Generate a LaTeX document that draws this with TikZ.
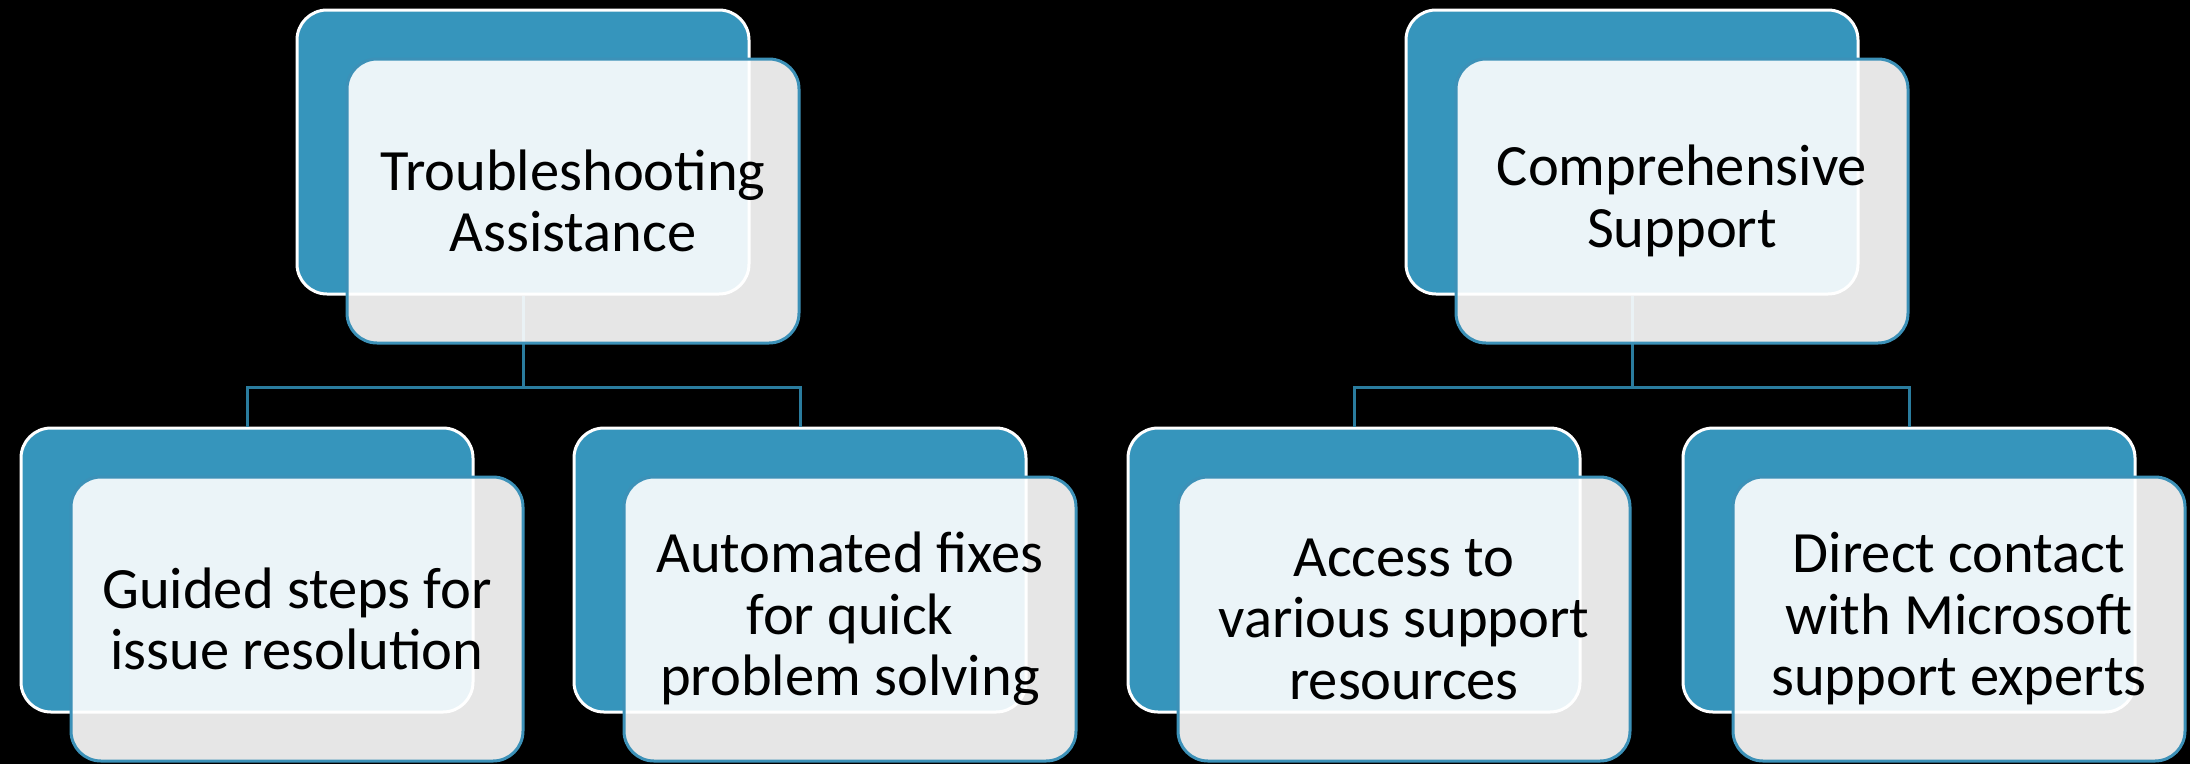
\documentclass[tikz,border=0pt]{standalone}
\usepackage{fontspec}
\setmainfont{Carlito}
\definecolor{accblue}{RGB}{54,149,188}
\definecolor{accline}{RGB}{60,145,184}
\definecolor{connblue}{RGB}{42,124,158}
\begin{document}
\begin{tikzpicture}[x=1pt,y=-1pt,
  backbox/.style={draw=white,line width=3pt,fill=accblue,rounded corners=30pt,
    minimum width=452pt,minimum height=284pt,inner sep=0pt},
  frontbox/.style={draw=accline,line width=3pt,fill=white,fill opacity=0.9,
    text opacity=1,draw opacity=1,rounded corners=30pt,
    minimum width=452pt,minimum height=284pt,inner sep=0pt,align=center,
    font=\fontsize{58.5}{61.5}\selectfont,text=black},
  conn/.style={draw=connblue,line width=3pt}]
\fill[black] (0,0) rectangle (2190,764);
\useasboundingbox (0,0) rectangle (2190,764);
% back boxes
\node[backbox] (t1) at (523,152) {};
\node[backbox] (t2) at (1632,152) {};
\node[backbox] (b1) at (247,570) {};
\node[backbox] (b2) at (800,570) {};
\node[backbox] (b3) at (1354,570) {};
\node[backbox] (b4) at (1909,570) {};
% connectors
\coordinate (bar1) at (523,387);
\coordinate (bar2) at (1632,387);
\draw[conn] (t1.south) -- (bar1) -| (b1.north);
\draw[conn] (bar1) -| (b2.north);
\draw[conn] (t2.south) -- (bar2) -| (b3.north);
\draw[conn] (bar2) -| (b4.north);
% front boxes
\node[frontbox] (ft1) at (573,201) {Troubleshooting\\Assistance};
\node[frontbox] (ft2) at (1682,201) {Comprehensive\\Support};
\node[frontbox] (fb1) at (297,619) {Guided steps for\\issue resolution};
\node[frontbox] (fb2) at (850,619) {Automated fixes\\for quick\\problem solving};
\node[frontbox] (fb3) at (1404,619) {Access to\\various support\\resources};
\node[frontbox] (fb4) at (1959,619) {Direct contact\\with Microsoft\\support experts};
\end{tikzpicture}
\end{document}
